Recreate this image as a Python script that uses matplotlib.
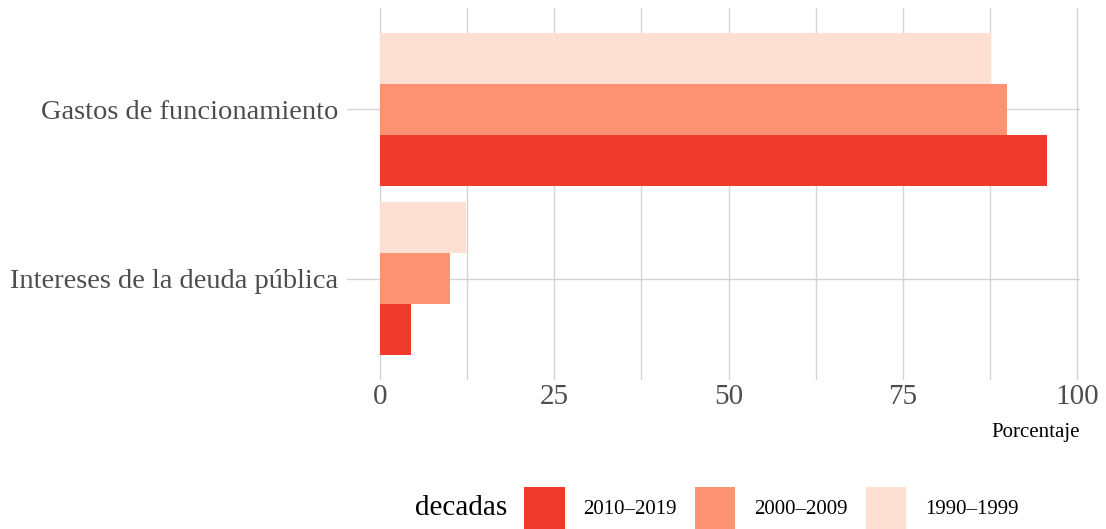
import numpy as np
import matplotlib.pyplot as plt
from matplotlib.patches import Patch

# Data
categorias = ['Intereses de la deuda pública', 'Gastos de funcionamiento']
decadas = ['2010-2019', '2000-2009', '1990-1999']
etiquetas = ['2010\u20132019', '2000\u20132009', '1990\u20131999']
pct_2010 = [4.5, 95.6]
pct_2000 = [10.0, 89.9]
pct_1990 = [12.3, 87.6]
colores = ['#EF3B2C', '#FC9272', '#FEE0D2']

plt.rcParams['font.family'] = ['Liberation Serif', 'DejaVu Serif']

fig = plt.figure(figsize=(11.06, 5.29), dpi=100)
ax = fig.add_axes([0.3135, 0.2817, 0.663, 0.7033])

y = np.arange(1, len(categorias) + 1)
h = 0.3
ax.barh(y - h, pct_2010, height=h, color=colores[0], zorder=2)
ax.barh(y, pct_2000, height=h, color=colores[1], zorder=2)
ax.barh(y + h, pct_1990, height=h, color=colores[2], zorder=2)

ax.set_xlim(-4.78, 100.4)
ax.set_ylim(0.4, 2.6)
ax.set_yticks(y)
ax.set_yticklabels(categorias)
ax.set_xticks([0, 25, 50, 75, 100])
ax.set_xticks([12.5, 37.5, 62.5, 87.5], minor=True)
ax.set_yticks([], minor=True)

ax.grid(True, which='both', axis='x', color='#D4D4D4', lw=1.0, zorder=0)
ax.grid(True, which='major', axis='y', color='#D4D4D4', lw=1.0, zorder=0)
for s in ax.spines.values():
    s.set_visible(False)
ax.tick_params(axis='both', which='both', length=0)
ax.tick_params(axis='y', labelsize=20.5, labelcolor='#4D4D4D', pad=6)
ax.tick_params(axis='x', labelsize=21, labelcolor='#4D4D4D', pad=3)

ax.set_xlabel('Porcentaje', fontsize=15, color='black', loc='right', labelpad=9)

fig.text(0.375, 0.04, 'decadas', fontsize=21, color='black', ha='left', va='center')
handles = [Patch(facecolor=c, edgecolor='none') for c in colores]
fig.legend(handles, etiquetas, loc='center left', bbox_to_anchor=(0.4738, 0.04),
           ncol=3, frameon=False, fontsize=15, handlelength=1.95, handleheight=2.7,
           handletextpad=0.9, columnspacing=0.86, borderaxespad=0, borderpad=0)

fig.savefig('out.png', dpi=100)
